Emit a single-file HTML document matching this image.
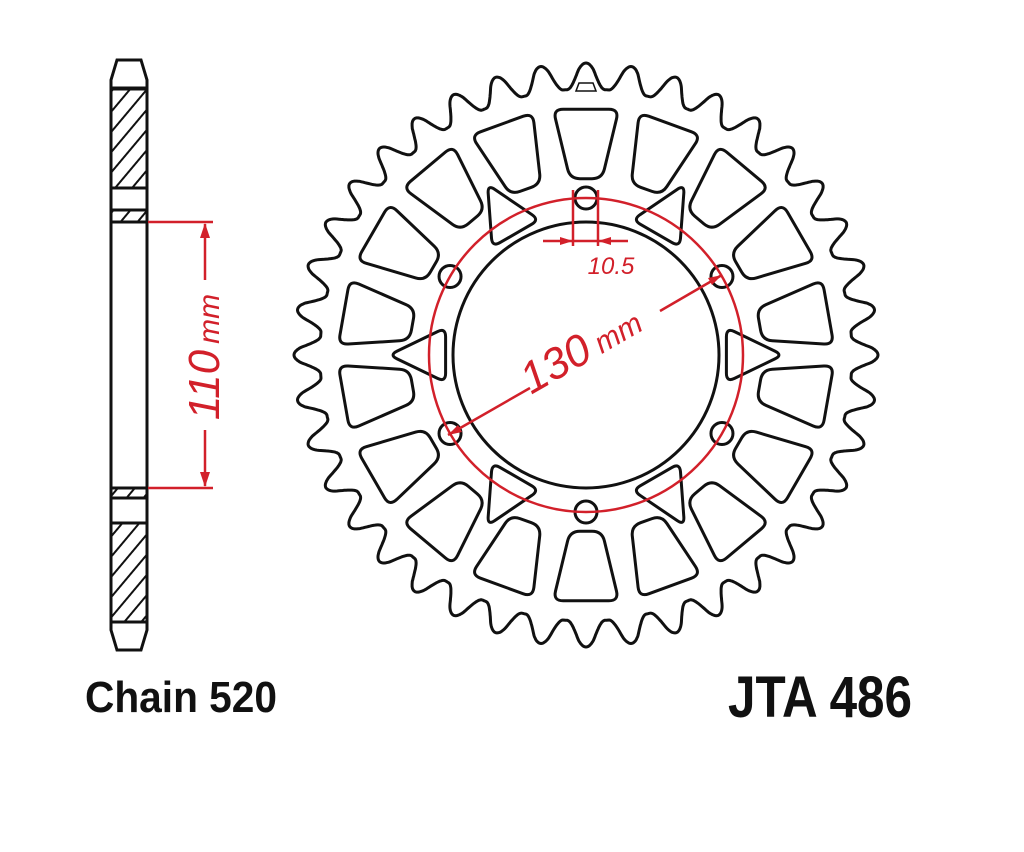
<!DOCTYPE html>
<html><head><meta charset="utf-8"><style>
html,body{margin:0;padding:0;background:#fff;}
svg{display:block;}
</style></head><body>
<svg id="s" width="1024" height="852" viewBox="0 0 1024 852" xmlns="http://www.w3.org/2000/svg">
<defs>
<pattern id="h" patternUnits="userSpaceOnUse" width="13" height="13" patternTransform="rotate(40)">
<rect width="13" height="13" fill="#fff"/><line x1="0" y1="0" x2="0" y2="13" stroke="#111" stroke-width="4"/>
</pattern>
</defs>
<rect width="1024" height="852" fill="#fff"/>
<g stroke="#111" stroke-width="3" fill="none">
<path d="M117 60 L141 60 L147 80 L147 630 L141 650 L117 650 L111 630 L111 80 Z" fill="#fff"/>
<rect x="111" y="89" width="36" height="99" fill="url(#h)"/>
<rect x="111" y="210" width="36" height="12" fill="url(#h)"/>
<rect x="111" y="488" width="36" height="10" fill="url(#h)"/>
<rect x="111" y="523" width="36" height="99" fill="url(#h)"/>
<line x1="111" y1="88" x2="147" y2="88"/>
<line x1="111" y1="622" x2="147" y2="622"/>
</g>
<g stroke="#d2202a" stroke-width="2.5" fill="#d2202a">
<line x1="148" y1="222" x2="213" y2="222"/>
<line x1="148" y1="488" x2="213" y2="488"/>
<line x1="205" y1="224" x2="205" y2="280"/>
<line x1="205" y1="430" x2="205" y2="486"/>
<path d="M205 223 L200 238 L210 238 Z" stroke="none"/>
<path d="M205 487 L200 472 L210 472 Z" stroke="none"/>
</g>
<text transform="translate(219,357) rotate(-90)" text-anchor="middle" fill="#d2202a" font-family="Liberation Sans, sans-serif" font-style="italic" font-size="44"><tspan>110</tspan><tspan font-size="30" dx="6">mm</tspan></text>
<g id="spr" stroke="#111" stroke-width="3" fill="none"></g>
<g id="red" stroke="#d2202a" stroke-width="2.5" fill="none">
<circle cx="586" cy="355" r="157"/>
<line x1="448" y1="435" x2="530" y2="388"/>
<line x1="660" y1="311" x2="722" y2="275"/>
<line x1="573" y1="190" x2="573" y2="246"/>
<line x1="598" y1="190" x2="598" y2="246"/>
<line x1="543" y1="241" x2="628" y2="241"/>
<path d="M573 241 L560 237 L560 245 Z" fill="#d2202a" stroke="none"/>
<path d="M598 241 L611 237 L611 245 Z" fill="#d2202a" stroke="none"/>
<path d="M722 275 L708 278 L712 285 Z" fill="#d2202a" stroke="none"/>
<path d="M448 435 L462 432 L458 425 Z" fill="#d2202a" stroke="none"/>
</g>
<text x="611" y="274" text-anchor="middle" fill="#d2202a" font-family="Liberation Sans, sans-serif" font-style="italic" font-size="24">10.5</text>
<text transform="translate(588,362) rotate(-30)" text-anchor="middle" fill="#d2202a" font-family="Liberation Sans, sans-serif" font-style="italic" font-size="44"><tspan>130</tspan><tspan font-size="30" dx="8">mm</tspan></text>
<text x="85" y="712" font-family="Liberation Sans, sans-serif" font-weight="bold" font-size="44" fill="#111" textLength="192" lengthAdjust="spacingAndGlyphs">Chain 520</text>
<text x="728" y="717" font-family="Liberation Sans, sans-serif" font-weight="bold" font-size="58" fill="#111" textLength="184" lengthAdjust="spacingAndGlyphs">JTA 486</text>
</svg>
<script>
(function(){
var cx=586,cy=355,g=document.getElementById('spr'),NS='http://www.w3.org/2000/svg';
function P(r,deg){var a=(deg-90)*Math.PI/180;return [cx+r*Math.cos(a),cy+r*Math.sin(a)];}
function add(tag,at){var e=document.createElementNS(NS,tag);for(var k in at)e.setAttribute(k,at[k]);g.appendChild(e);return e;}
var N=40,d='',M=2400;
for(var i=0;i<=M;i++){var deg=i*360/M;var p=(deg/(360/N))%1;if(p>0.5)p-=1;var ap=Math.abs(p);var r;
 if(ap<0.17){r=292-Math.pow(ap/0.17,2)*7;} else {var t=(ap-0.17)/0.33;r=285-19*Math.sin(Math.min(1,t*1.15)*Math.PI/2);}
 var q=P(r,deg);d+=(i?'L':'M')+q[0].toFixed(1)+' '+q[1].toFixed(1);}
add('path',{d:d+'Z'});
function rpoly(pts,rad){var n=pts.length,s='';for(var i=0;i<n;i++){var a=pts[(i+n-1)%n],b=pts[i],c=pts[(i+1)%n];
 var v1=[a[0]-b[0],a[1]-b[1]],v2=[c[0]-b[0],c[1]-b[1]];var l1=Math.hypot(v1[0],v1[1]),l2=Math.hypot(v2[0],v2[1]);
 var rr=Math.min(rad,l1/2.5,l2/2.5);var p1=[b[0]+v1[0]/l1*rr,b[1]+v1[1]/l1*rr],p2=[b[0]+v2[0]/l2*rr,b[1]+v2[1]/l2*rr];
 s+=(i?'L':'M')+p1[0].toFixed(1)+' '+p1[1].toFixed(1)+'Q'+b[0].toFixed(1)+' '+b[1].toFixed(1)+' '+p2[0].toFixed(1)+' '+p2[1].toFixed(1);}
 return s+'Z';}
for(var k=0;k<18;k++){var c=k*20;
 add('path',{d:rpoly([P(248,c-7.6),P(248,c+7.6),P(177,c+5.2),P(177,c-5.2)],10)});}
for(var k=0;k<6;k++){var c=30+k*60;
 add('path',{d:rpoly([P(143,c-11),P(143,c+11),P(197,c)],9)});}
add('circle',{cx:cx,cy:cy,r:133});
for(var k=0;k<6;k++){var q=P(157,k*60);add('circle',{cx:q[0],cy:q[1],r:11});}
var l=P(268,0);add('path',{d:'M'+(l[0]-10)+' '+(l[1]+4)+' L'+(l[0]+10)+' '+(l[1]+4)+' L'+(l[0]+7)+' '+(l[1]-4)+' L'+(l[0]-7)+' '+(l[1]-4)+'Z','stroke-width':1.5});
})();
</script>
</body></html>
